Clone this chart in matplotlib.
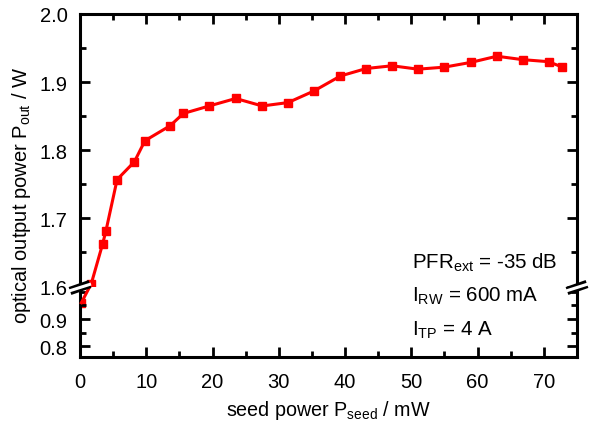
import matplotlib
matplotlib.use("Agg")
import matplotlib.pyplot as plt
from matplotlib.lines import Line2D
from matplotlib.ticker import MultipleLocator

plt.rcParams['font.family'] = ['Liberation Sans', 'DejaVu Sans']
plt.rcParams['mathtext.fontset'] = 'custom'
plt.rcParams['mathtext.rm'] = 'Liberation Sans'
plt.rcParams['mathtext.it'] = 'Liberation Sans'

# data
seed_power_low = [0.2]
output_power_low = [0.96]
seed_power = [1.7, 3.4, 3.9, 5.6, 8.2, 9.8, 13.6, 15.6, 19.5, 23.5, 27.5, 31.4,
              35.3, 39.3, 43.2, 47.1, 51.0, 55.0, 59.0, 62.9, 66.8, 70.7, 72.8]
output_power = [1.604, 1.662, 1.681, 1.757, 1.783, 1.814, 1.836, 1.854, 1.865,
                1.876, 1.865, 1.870, 1.887, 1.909, 1.920, 1.924, 1.919, 1.922,
                1.929, 1.938, 1.933, 1.930, 1.922]
upper_yticks = [1.6, 1.7, 1.8, 1.9, 2.0]
lower_yticks = [0.8, 0.9]
xticks = [0, 10, 20, 30, 40, 50, 60, 70]

W, H = 589, 435
fig = plt.figure(figsize=(W / 100, H / 100), dpi=100)

left, right = 80 / W, 577 / W
top_px, brk_px, bot_px = 15, 287.5, 358
ax_up = fig.add_axes([left, 1 - brk_px / H, right - left, (brk_px - top_px) / H])
ax_lo = fig.add_axes([left, 1 - bot_px / H, right - left, (bot_px - brk_px) / H])

red = '#ff0000'
lw_sp = 2.2
for ax in (ax_up, ax_lo):
    ax.set_xlim(0, 75)
    for s in ax.spines.values():
        s.set_linewidth(lw_sp)
    ax.xaxis.set_major_locator(MultipleLocator(10))
    ax.xaxis.set_minor_locator(MultipleLocator(5))
    ax.tick_params(which='major', direction='in', length=7, width=2, labelsize=14.5, pad=9)
    ax.tick_params(which='minor', direction='in', length=4, width=2)

ax_up.set_ylim(1.6, 2.0)
ax_up.set_yticks(upper_yticks)
ax_up.set_yticklabels([f"{v:.1f}" for v in upper_yticks])
ax_up.yaxis.set_minor_locator(MultipleLocator(0.05))
ax_up.spines['bottom'].set_visible(False)
ax_up.tick_params(which='both', top=True, bottom=False, labelbottom=False, right=True)

ax_lo.set_ylim(0.76, 1.02)
ax_lo.set_yticks(lower_yticks)
ax_lo.set_yticklabels([f"{v:.1f}" for v in lower_yticks])
ax_lo.yaxis.set_minor_locator(MultipleLocator(0.05))
ax_lo.spines['top'].set_visible(False)
ax_lo.set_xticks(xticks)
ax_lo.tick_params(which='both', top=False, right=True)
ax_lo.tick_params(axis='x', which='major', pad=11)

ax_up.plot(seed_power, output_power, color=red, lw=2.2, marker='s', ms=6,
           clip_on=False, zorder=3)
ax_lo.plot(seed_power_low, output_power_low, color=red, lw=2.2, marker='s', ms=6,
           clip_on=True, zorder=1)

# connecting segment across the break
inv = fig.transFigure.inverted()
p0 = inv.transform(ax_lo.transData.transform((seed_power_low[-1], output_power_low[-1])))
p1 = inv.transform(ax_up.transData.transform((seed_power[0], output_power[0])))
fig.add_artist(Line2D([p0[0], p1[0]], [p0[1], p1[1]], color=red, lw=2.2, zorder=3))

# break marks
yb = 1 - (brk_px + 1) / H
for xc in (left, right):
    dx, dy = 10 / W, 3.5 / H
    fig.add_artist(Line2D([xc - dx, xc + dx], [yb - dy, yb + dy], color='black',
                          lw=6, solid_capstyle='butt', zorder=5))
    fig.add_artist(Line2D([xc - dx - 1 / W, xc + dx + 1 / W], [yb - dy, yb + dy], color='white',
                          lw=2.2, solid_capstyle='butt', zorder=6))

fig.text(0.5 * (left + right), 1 - 411 / H, r'seed power P$_{\mathrm{seed}}$ / mW',
         ha='center', va='center', fontsize=14.2)
fig.text(22 / W, 1 - 195 / H, r'optical output power P$_{\mathrm{out}}$ / W',
         ha='center', va='center', rotation=90, fontsize=14.5)

ann = [r'PFR$_{\mathrm{ext}}$ = -35 dB', r'I$_{\mathrm{RW}}$ = 600 mA', r'I$_{\mathrm{TP}}$ = 4 A']
for i, t in enumerate(ann):
    fig.text(412 / W, 1 - (263 + 33.5 * i) / H, t, ha='left', va='center', fontsize=14.8)

fig.savefig('out.png', dpi=100)
